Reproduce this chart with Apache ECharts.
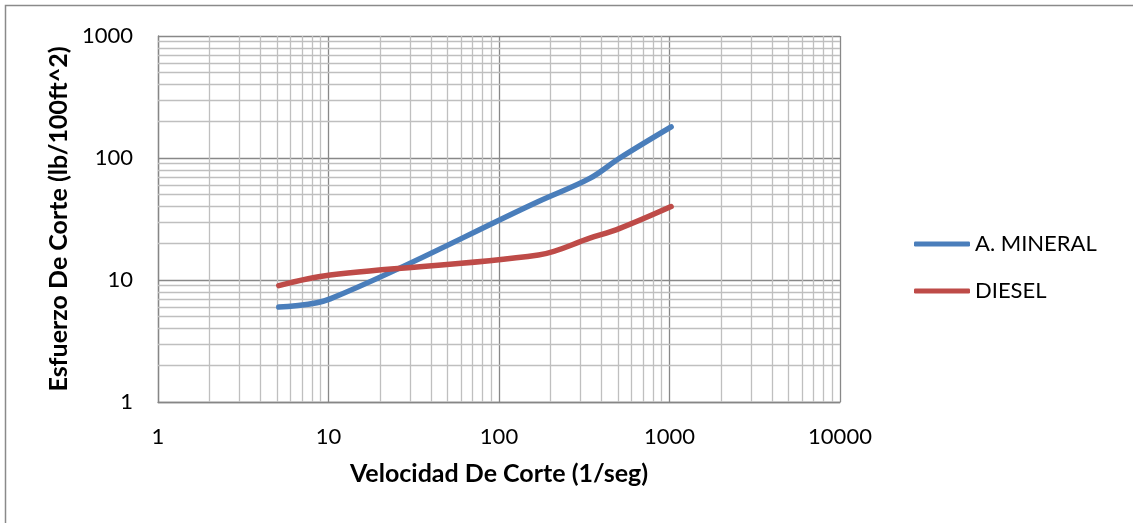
<!DOCTYPE html>
<html>
<head>
<meta charset="utf-8">
<script src="https://cdn.jsdelivr.net/npm/echarts@6/dist/echarts.min.js"></script>
<style>
  html, body { margin: 0; padding: 0; background: #ffffff; }
  #chart { width: 1133px; height: 523px; }
</style>
</head>
<body>
<div id="chart"></div>
<script>
// Shear rate (1/seg) and shear stress (lb/100ft^2) readings
const shearRates = [5.11, 10.22, 170.3, 340.6, 511, 1022];
const mineralOil = [6, 7, 44, 68, 100, 180];
const diesel = [9, 11, 16, 22, 26.5, 40];

const seriesNames = ['A. MINERAL', 'DIESEL'];
const seriesColors = ['#4a7ebb', '#be4b48'];

// Log grid: decade starts and the in-between multipliers
const xDecades = [1, 10, 100, 1000];
const yDecades = [1, 10, 100];
const minorSteps = [2, 3, 4, 5, 6, 7, 8, 9];

const FONT = 'Lato, "Open Sans", sans-serif';

const minorX = [];
xDecades.forEach(d => minorSteps.forEach(m => minorX.push({ xAxis: d * m })));
const minorY = [];
yDecades.forEach(d => minorSteps.forEach(m => minorY.push({ yAxis: d * m })));

const pairs = vals => shearRates.map((x, i) => [x, vals[i]]);

const chart = echarts.init(document.getElementById('chart'), null, { renderer: 'canvas' });

chart.setOption({
  backgroundColor: '#ffffff',
  animation: false,
  grid: { left: 158, right: 293, top: 36, bottom: 121, containLabel: false },
  graphic: [{
    type: 'rect',
    shape: { x: 5.5, y: 5.5, width: 1140, height: 530 },
    style: { fill: 'none', stroke: '#8a8a8a', lineWidth: 1.5 },
    silent: true
  }],
  legend: {
    orient: 'vertical',
    left: 909,
    top: 228,
    icon: 'roundRect',
    itemWidth: 56,
    itemHeight: 5,
    itemGap: 25,
    textStyle: { fontFamily: FONT, fontSize: 22, color: '#000000' },
    data: seriesNames
  },
  xAxis: {
    type: 'log',
    logBase: 10,
    min: 1,
    max: 10000,
    name: 'Velocidad De Corte (1/seg)',
    nameLocation: 'middle',
    nameGap: 59,
    nameTextStyle: { fontFamily: FONT, fontSize: 25, fontWeight: 'bold', color: '#000000' },
    axisLine: { show: true, lineStyle: { color: '#868686', width: 1.3 } },
    axisTick: { show: false },
    axisLabel: {
      margin: 24,
      fontFamily: FONT, fontSize: 22, color: '#000000',
      formatter: v => String(Math.round(v))
    },
    splitLine: { show: true, lineStyle: { color: '#888888', width: 1.3 } }
  },
  yAxis: {
    type: 'log',
    logBase: 10,
    min: 1,
    max: 1000,
    name: 'Esfuerzo De Corte (lb/100ft^2)',
    nameLocation: 'middle',
    nameGap: 85,
    nameRotate: 90,
    nameTextStyle: { fontFamily: FONT, fontSize: 25, fontWeight: 'bold', color: '#000000' },
    axisLine: { show: true, lineStyle: { color: '#868686', width: 1.3 } },
    axisTick: { show: false },
    axisLabel: {
      margin: 25,
      fontFamily: FONT, fontSize: 22, color: '#000000',
      formatter: v => String(Math.round(v))
    },
    splitLine: { show: true, lineStyle: { color: '#888888', width: 1.3 } }
  },
  series: [
    {
      // minor log grid lines at 2..9 of each decade
      type: 'line',
      data: [],
      silent: true,
      z: 1,
      markLine: {
        z: 1,
        silent: true,
        symbol: ['none', 'none'],
        label: { show: false },
        lineStyle: { type: 'solid', color: '#bfbfbf', width: 1.3 },
        emphasis: { disabled: true },
        data: minorX.concat(minorY)
      }
    },
    {
      name: seriesNames[0],
      type: 'line',
      data: pairs(mineralOil),
      smooth: 0.35,
      symbol: 'none',
      z: 3,
      lineStyle: { color: seriesColors[0], width: 5.5, cap: 'round', join: 'round' },
      itemStyle: { color: seriesColors[0] }
    },
    {
      name: seriesNames[1],
      type: 'line',
      data: pairs(diesel),
      smooth: 0.35,
      symbol: 'none',
      z: 3,
      lineStyle: { color: seriesColors[1], width: 5.5, cap: 'round', join: 'round' },
      itemStyle: { color: seriesColors[1] }
    }
  ]
});
</script>
</body>
</html>
